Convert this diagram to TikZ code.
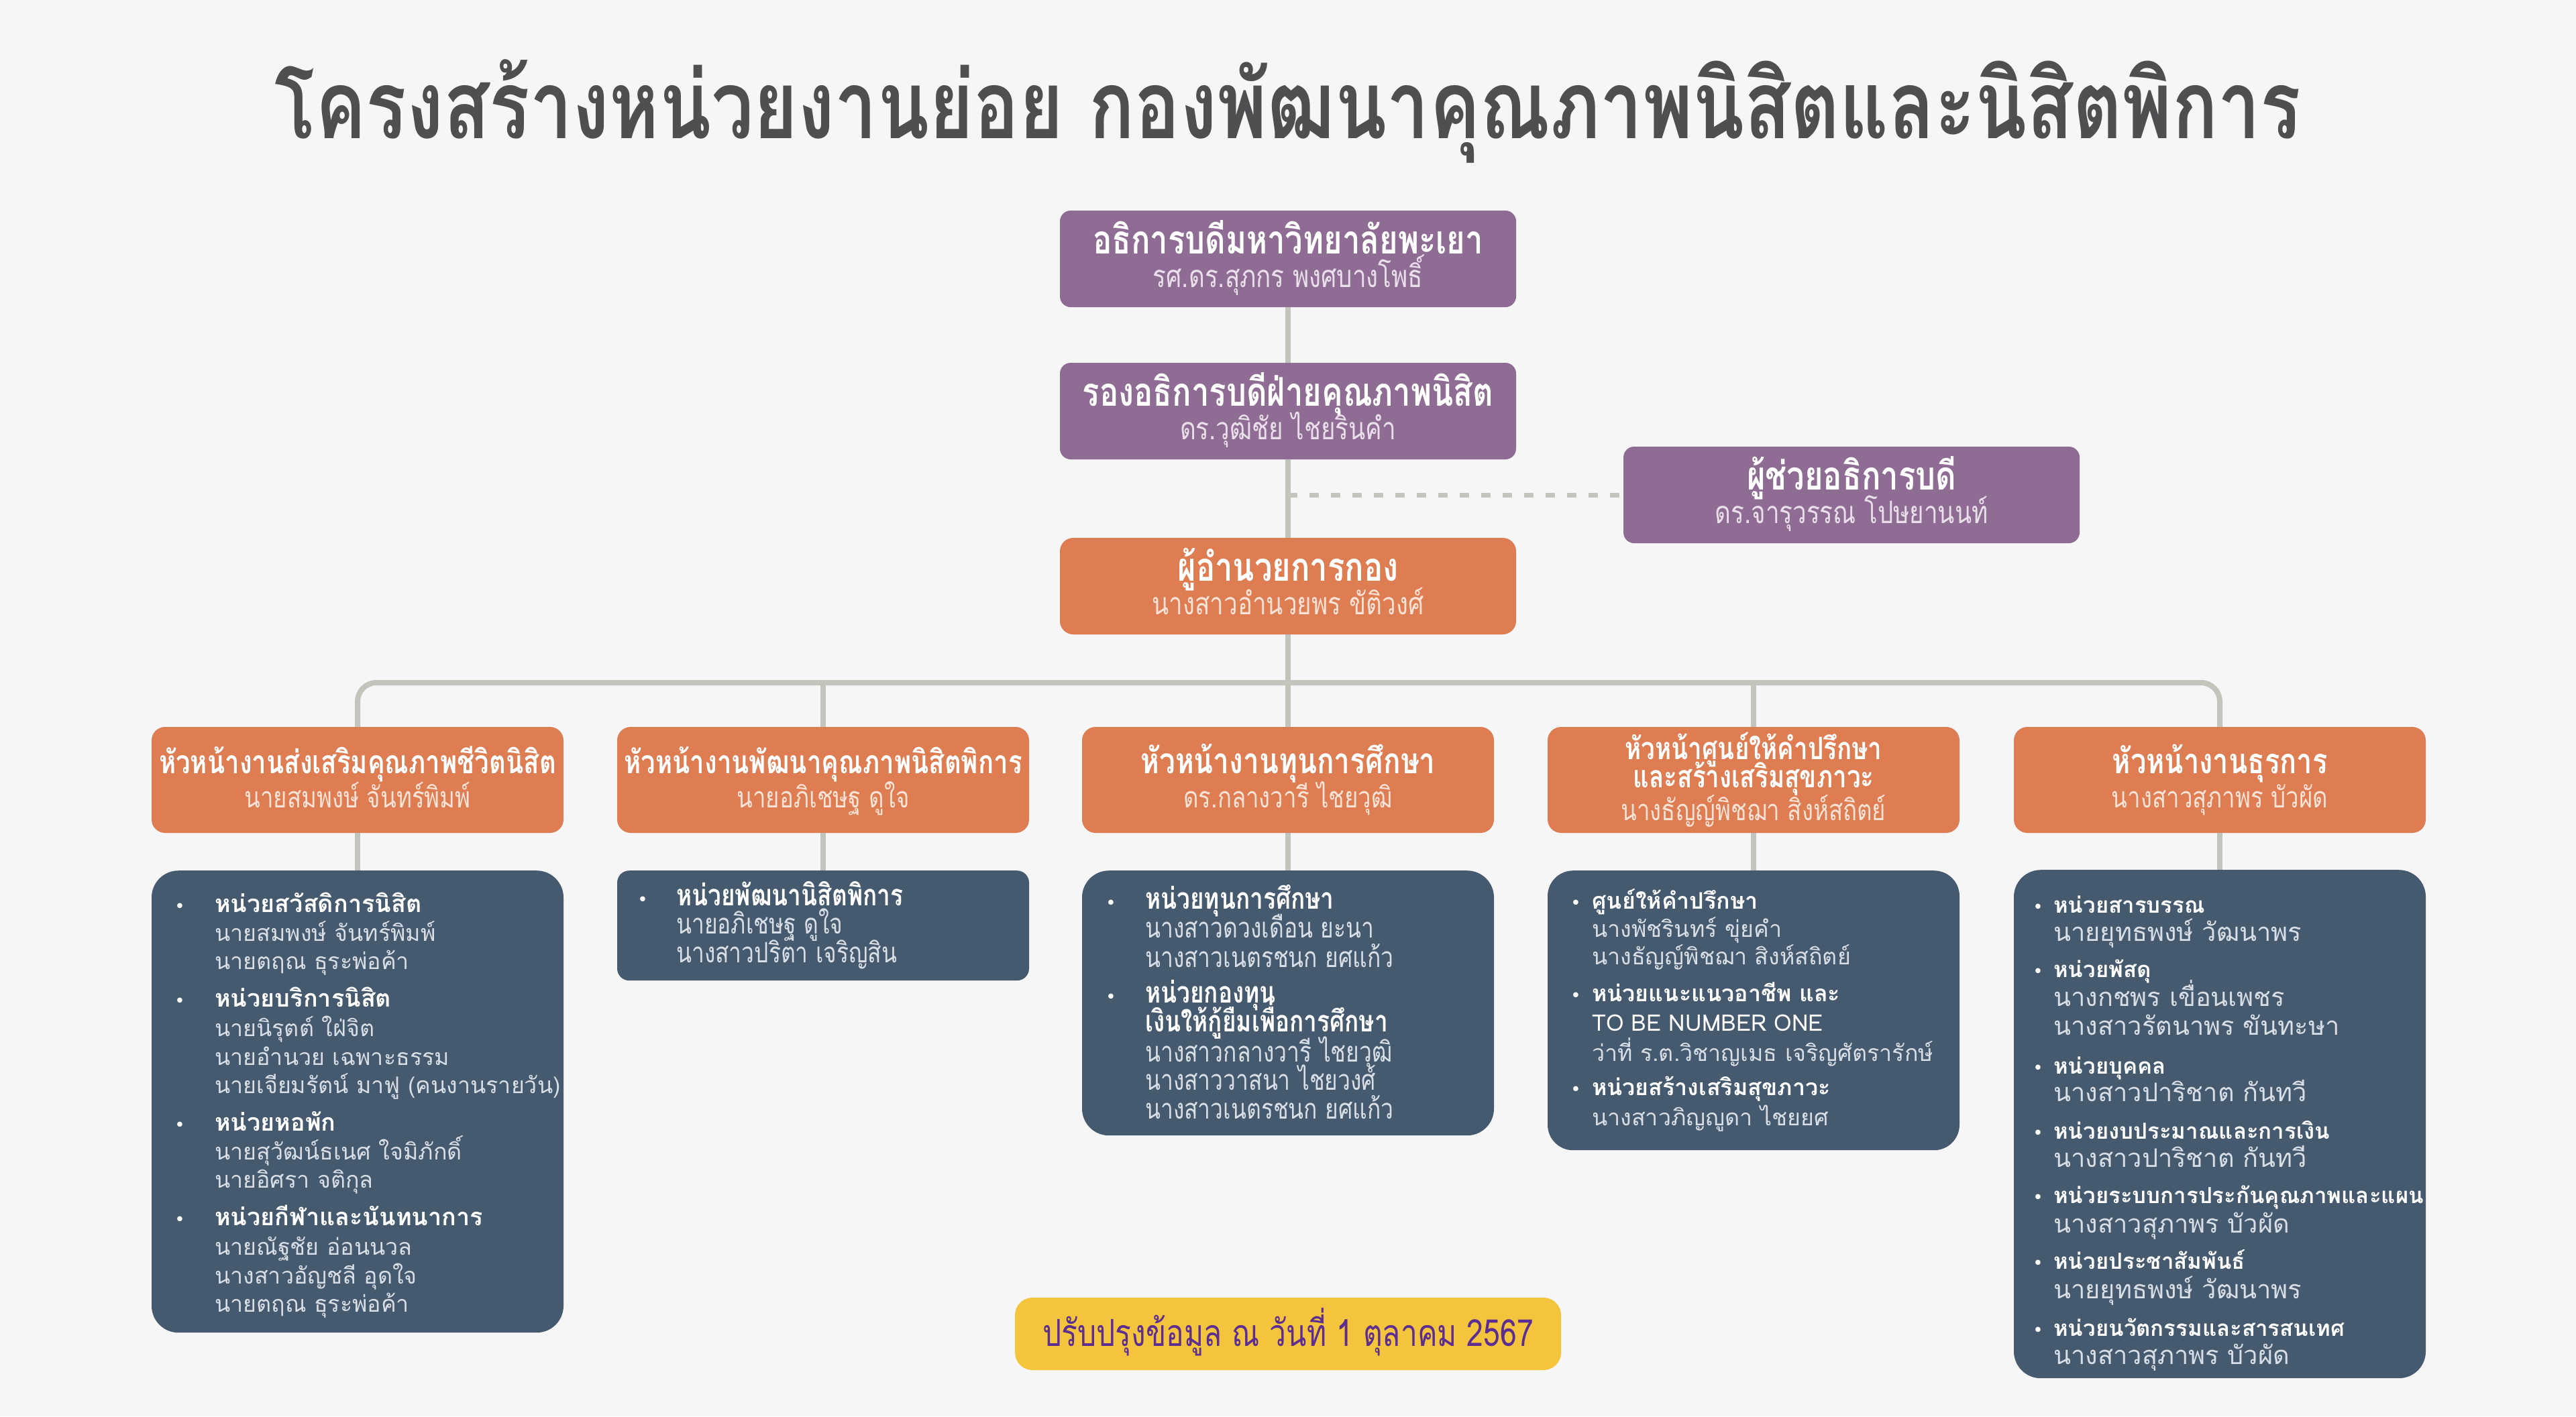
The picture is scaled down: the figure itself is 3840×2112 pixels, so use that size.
\documentclass[tikz,border=0pt]{standalone}
\usepackage{fontspec}
\newfontfamily\thc[Script=Thai,FakeStretch=0.8]{Loma}
\newfontfamily\thw[Script=Thai]{Loma}
\newfontfamily\dv{DejaVu Sans}
\usetikzlibrary{calc}
\definecolor{bgc}{HTML}{F7F6F7}
\definecolor{purp}{HTML}{8F6C93}
\definecolor{orng}{HTML}{DE7C52}
\definecolor{slate}{HTML}{465A6F}
\definecolor{linec}{HTML}{C3C5BD}
\definecolor{titlec}{HTML}{4F4F51}
\definecolor{yel}{HTML}{F4C43C}
\definecolor{footc}{HTML}{5C2E91}
\definecolor{psub}{HTML}{E9DFEA}
\definecolor{osub}{HTML}{F8E2D6}
\definecolor{namec}{HTML}{D8DEE5}
\newcommand\fTitle{\thc\bfseries\fontsize{141}{160}\selectfont}
\newcommand\fBoxT{\thc\bfseries\fontsize{59}{66}\selectfont}
\newcommand\fBoxS{\thc\fontsize{46}{54}\selectfont}
\newcommand\fHeadT{\thc\bfseries\fontsize{53}{60}\selectfont}
\newcommand\fHeadS{\thc\fontsize{43.5}{52}\selectfont}
\newcommand\fBAh{\thw\bfseries\fontsize{36}{40}\selectfont}
\newcommand\fBAn{\thw\fontsize{34}{40}\selectfont}
\newcommand\fBEh{\thw\bfseries\fontsize{33}{40}\selectfont}
\newcommand\fBEn{\thw\fontsize{38}{40}\selectfont}
\newcommand\fBCh{\thc\bfseries\fontsize{44}{48}\selectfont}
\newcommand\fBCn{\thc\fontsize{42}{48}\selectfont}
\newcommand\fBD{\thw\fontsize{34}{40}\selectfont}
\newcommand\fFoot{\thc\fontsize{55.5}{60}\selectfont}
\tikzset{
  pbox/.style={rectangle, rounded corners=16, fill=purp, minimum width=680, minimum height=144, inner sep=0},
  obox/.style={rectangle, rounded corners=20, fill=orng, minimum width=614, minimum height=158, inner sep=0},
  sbox/.style={rectangle, fill=slate, minimum width=614, inner sep=0, anchor=north},
  conn/.style={draw=linec, line width=8},
  dconn/.style={draw=linec, line width=7, dash pattern=on 14 off 18},
  ttl/.style={anchor=base, inner sep=0, text=white, font=\fBoxT},
  sub/.style={anchor=base, inner sep=0, text=psub, font=\fBoxS},
  htl/.style={anchor=base, inner sep=0, text=white, font=\fHeadT},
  hsub/.style={anchor=base, inner sep=0, text=osub, font=\fHeadS},
  bh/.style={anchor=base west, inner sep=0, text=white},
  bn/.style={anchor=base west, inner sep=0, text=namec},
  bul/.style={anchor=base, inner sep=0, text=white, font=\dv\fontsize{26}{30}\selectfont},
}
\begin{document}
\begin{tikzpicture}[x=1pt,y=-1pt]
\fill[bgc] (0,0) rectangle (3840,2112);
\useasboundingbox (0,0) rectangle (3840,2112);

% title
\node[anchor=base, inner sep=0, text=titlec, font=\fTitle] (title) at (1920,206) {โครงสร้างหน่วยงานย่อย กองพัฒนาคุณภาพนิสิตและนิสิตพิการ};

% top boxes
\node[pbox] (pres) at (1920,386) {};
\node[pbox] (vp) at (1920,613) {};
\node[pbox] (asst) at (2760,738) {};
\node[obox, minimum width=680, minimum height=144] (dir) at (1920,874) {};

\node[ttl] (presT) at ($(pres)+(0,-8)$) {อธิการบดีมหาวิทยาลัยพะเยา};
\node[sub] (presS) at ($(pres)+(0,42)$) {รศ.ดร.สุภกร พงศบางโพธิ์};
\node[ttl] (vpT) at ($(vp)+(0,-8)$) {รองอธิการบดีฝ่ายคุณภาพนิสิต};
\node[sub] (vpS) at ($(vp)+(0,42)$) {ดร.วุฒิชัย ไชยรินคำ};
\node[ttl] (asstT) at ($(asst)+(0,-8)$) {ผู้ช่วยอธิการบดี};
\node[sub] (asstS) at ($(asst)+(0,42)$) {ดร.จารุวรรณ โปษยานนท์};
\node[ttl] (dirT) at ($(dir)+(0,-8)$) {ผู้อำนวยการกอง};
\node[sub, text=osub] (dirS) at ($(dir)+(0,42)$) {นางสาวอำนวยพร ขัติวงศ์};

% heads
\coordinate (bus) at (1920,1018);
\node[obox] (h1) at (533,1163) {};
\node[obox] (h2) at (1227,1163) {};
\node[obox] (h3) at (1920,1163) {};
\node[obox] (h4) at (2614,1163) {};
\node[obox] (h5) at (3309,1163) {};

\node[htl, font=\thc\bfseries\fontsize{48}{56}\selectfont] (h1T) at ($(h1)+(0,-10)$) {หัวหน้างานส่งเสริมคุณภาพชีวิตนิสิต};
\node[hsub] (h1S) at ($(h1)+(0,41)$) {นายสมพงษ์ จันทร์พิมพ์};
\node[htl, font=\thc\bfseries\fontsize{48}{56}\selectfont] (h2T) at ($(h2)+(0,-10)$) {หัวหน้างานพัฒนาคุณภาพนิสิตพิการ};
\node[hsub] (h2S) at ($(h2)+(0,41)$) {นายอภิเชษฐ ดูใจ};
\node[htl] (h3T) at ($(h3)+(0,-10)$) {หัวหน้างานทุนการศึกษา};
\node[hsub] (h3S) at ($(h3)+(0,41)$) {ดร.กลางวารี ไชยวุฒิ};
\node[htl, font=\thc\bfseries\fontsize{46}{52}\selectfont] (h4T) at ($(h4)+(0,-31)$) {หัวหน้าศูนย์ให้คำปรึกษา};
\node[htl, font=\thc\bfseries\fontsize{46}{52}\selectfont] (h4U) at ($(h4)+(0,11)$) {และสร้างเสริมสุขภาวะ};
\node[hsub] (h4S) at ($(h4)+(0,60)$) {นางธัญญ์พิชฌา สิงห์สถิตย์};
\node[htl, font=\thc\bfseries\fontsize{52}{60}\selectfont] (h5T) at ($(h5)+(0,-10)$) {หัวหน้างานธุรการ};
\node[hsub] (h5S) at ($(h5)+(0,41)$) {นางสาวสุภาพร บัวผัด};

% body boxes
\node[sbox, rounded corners=40, minimum height=689] (b1) at (533,1298) {};
\node[sbox, rounded corners=18, minimum height=164] (b2) at (1227,1298) {};
\node[sbox, rounded corners=40, minimum height=395] (b3) at (1920,1298) {};
\node[sbox, rounded corners=38, minimum height=417] (b4) at (2614,1298) {};
\node[sbox, rounded corners=40, minimum height=758] (b5) at (3309,1297) {};

% connectors
\draw[conn] (pres.south) -- (vp.north);
\draw[conn] (vp.south) -- (dir.north);
\draw[dconn] (asst.west -| vp.south) -- (asst.west);
\draw[conn] (dir.south) -- (dir.south |- bus);
\draw[conn, rounded corners=28] (h1.north) -- (h1.north |- bus) -- (h5.north |- bus) -- (h5.north);
\foreach \k in {2,3,4} \draw[conn] (h\k.north) -- (h\k.north |- bus);
\foreach \k in {1,...,5} \draw[conn] (h\k.south) -- (b\k.north);

% body 1
\foreach \yy/\txt [count=\i] in {1360/หน่วยสวัสดิการนิสิต,1501/หน่วยบริการนิสิต,1686/หน่วยหอพัก,1827/หน่วยกีฬาและนันทนาการ}{
  \node[bh, font=\fBAh] (b1h\i) at (320,\yy) {\txt};
  \node[bul] (b1d\i) at (268,\yy) {•};
}
\foreach \yy/\txt [count=\i] in {1403/นายสมพงษ์ จันทร์พิมพ์,1445/นายตฤณ ธุระพ่อค้า,1545/นายนิรุตต์ ใฝ่จิต,1588/นายอำนวย เฉพาะธรรม,1630/นายเจียมรัตน์ มาฟู (คนงานรายวัน),1729/นายสุวัฒน์ธเนศ ใจมิภักดิ์,1771/นายอิศรา จติกุล,1871/นายณัฐชัย อ่อนนวล,1914/นางสาวอัญชลี อุดใจ,1956/นายตฤณ ธุระพ่อค้า}{
  \node[bn, font=\fBAn] (b1n\i) at (320,\yy) {\txt};
}

% body 2
\node[bh, font=\fBCh] (b2h1) at (1008,1350) {หน่วยพัฒนานิสิตพิการ};
\node[bul] (b2d1) at (958,1350) {•};
\foreach \yy/\txt [count=\i] in {1392/นายอภิเชษฐ ดูใจ,1435/นางสาวปริตา เจริญสิน}{
  \node[bn, font=\fBCn] (b2n\i) at (1008,\yy) {\txt};
}

% body 3
\foreach \yy/\txt [count=\i] in {1355/หน่วยทุนการศึกษา,1495/หน่วยกองทุน}{
  \node[bh, font=\fBCh] (b3h\i) at (1707,\yy) {\txt};
  \node[bul] (b3d\i) at (1656,\yy) {•};
}
\node[bh, font=\fBCh] (b3h3) at (1707,1538) {เงินให้กู้ยืมเพื่อการศึกษา};
\foreach \yy/\txt [count=\i] in {1398/นางสาวดวงเดือน ยะนา,1442/นางสาวเนตรชนก ยศแก้ว,1583/นางสาวกลางวารี ไชยวุฒิ,1625/นางสาววาสนา ไชยวงศ์,1668/นางสาวเนตรชนก ยศแก้ว}{
  \node[bn, font=\fBCn] (b3n\i) at (1707,\yy) {\txt};
}

% body 4
\foreach \yy/\txt [count=\i] in {1355/ศูนย์ให้คำปรึกษา,1493/หน่วยแนะแนวอาชีพ และ,1633/หน่วยสร้างเสริมสุขภาวะ}{
  \node[bh, font=\fBD\bfseries] (b4h\i) at (2373,\yy) {\txt};
  \node[bul] (b4d\i) at (2349,\yy) {•};
}
\node[bh, font=\fBD] (b4h4) at (2373,1537) {TO BE NUMBER ONE};
\foreach \yy/\txt [count=\i] in {1397/นางพัชรินทร์ ขุ่ยคำ,1438/นางธัญญ์พิชฌา สิงห์สถิตย์,1582/ว่าที่ ร.ต.วิชาญเมธ เจริญศัตรารักษ์,1678/นางสาวภิญญูดา ไชยยศ}{
  \node[bn, font=\fBD] (b4n\i) at (2373,\yy) {\txt};
}

% body 5
\foreach \yy/\txt [count=\i] in {1361/หน่วยสารบรรณ,1457/หน่วยพัสดุ,1601/หน่วยบุคคล,1698/หน่วยงบประมาณและการเงิน,1794/หน่วยระบบการประกันคุณภาพและแผน,1892/หน่วยประชาสัมพันธ์,1992/หน่วยนวัตกรรมและสารสนเทศ}{
  \node[bh, font=\fBEh] (b5h\i) at (3061,\yy) {\txt};
  \node[bul] (b5d\i) at (3038,\yy) {•};
}
\foreach \yy/\txt [count=\i] in {1403/นายยุทธพงษ์ วัฒนาพร,1500/นางกชพร เขื่อนเพชร,1543/นางสาวรัตนาพร ขันทะษา,1642/นางสาวปาริชาต กันทวี,1740/นางสาวปาริชาต กันทวี,1838/นางสาวสุภาพร บัวผัด,1936/นายยุทธพงษ์ วัฒนาพร,2034/นางสาวสุภาพร บัวผัด}{
  \node[bn, font=\fBEn] (b5n\i) at (3061,\yy) {\txt};
}

% footer
\node[rectangle, rounded corners=26, fill=yel, minimum width=814, minimum height=108, inner sep=0] (foot) at (1920,1989) {};
\node[anchor=base, inner sep=0, text=footc, font=\fFoot] (footT) at (1920,2007) {ปรับปรุงข้อมูล ณ วันที่ 1 ตุลาคม 2567};
\end{tikzpicture}
\end{document}
